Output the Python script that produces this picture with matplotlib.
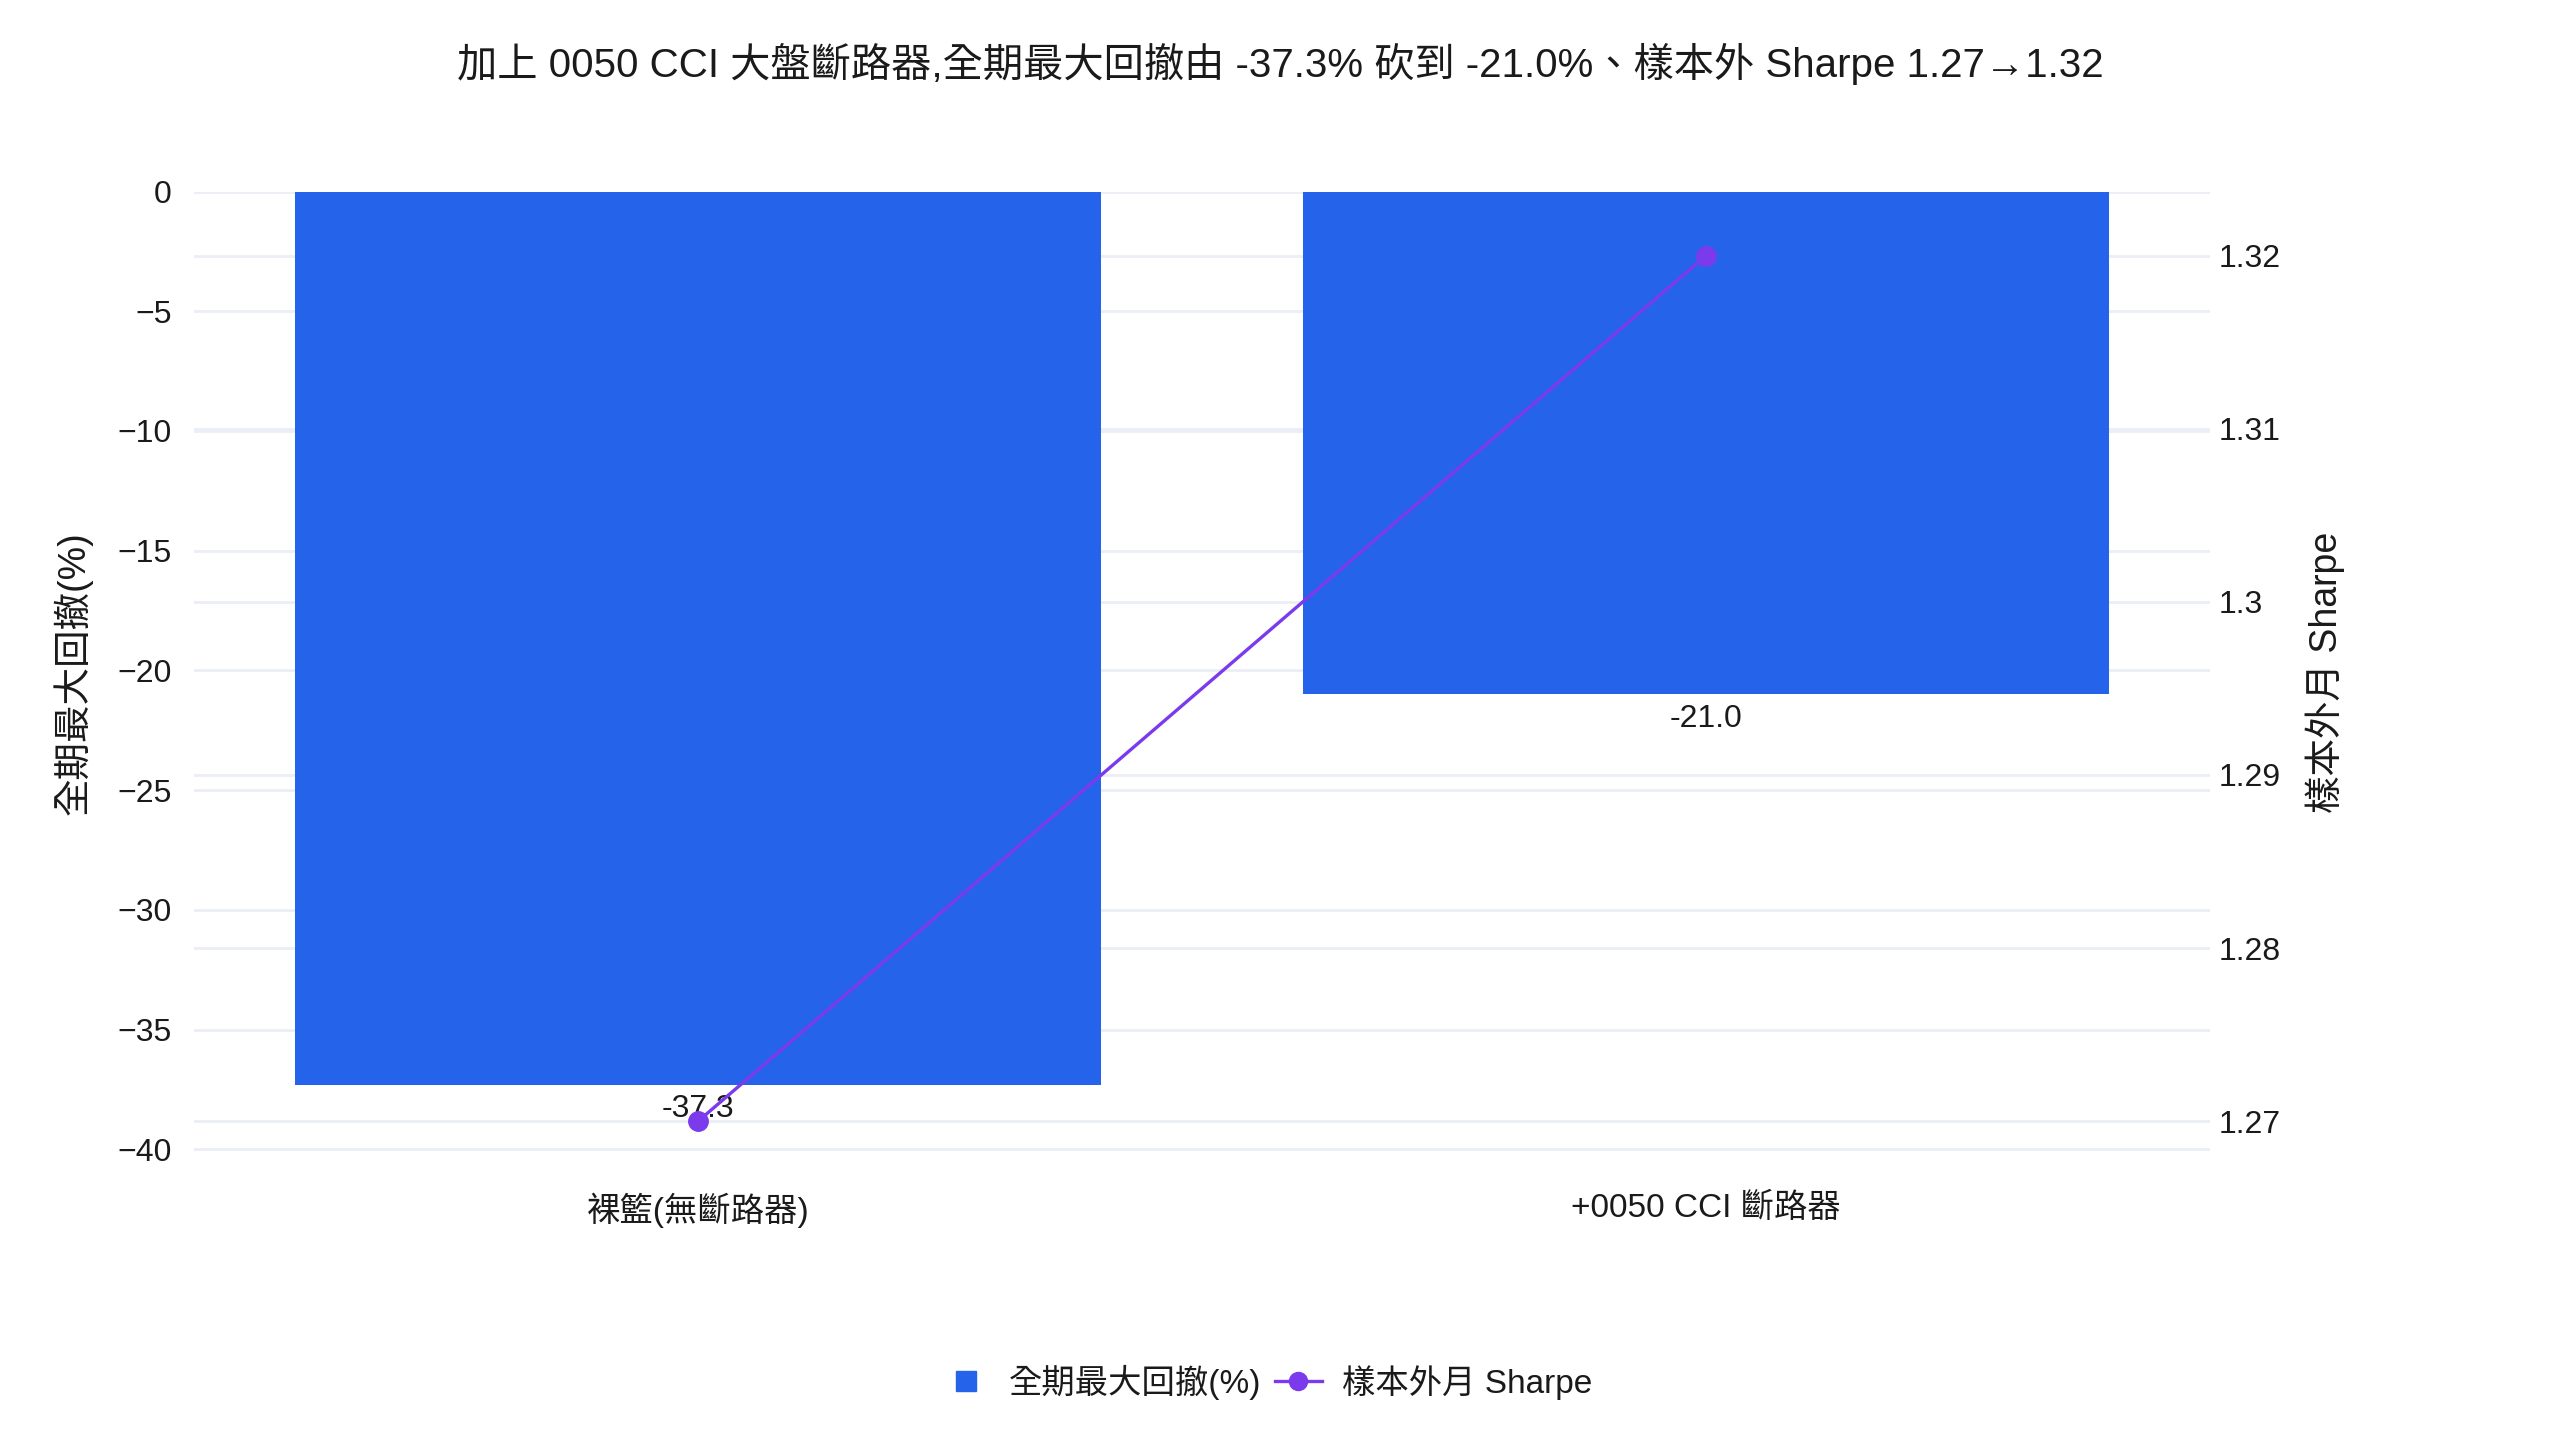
import matplotlib
matplotlib.use('Agg')
import matplotlib.pyplot as plt
from matplotlib.lines import Line2D
from matplotlib.ticker import FuncFormatter

plt.rcParams['font.family'] = ['Liberation Sans', 'Noto Sans CJK TC', 'DejaVu Sans']
plt.rcParams['axes.unicode_minus'] = True

# data
categories = ['裸籃(無斷路器)', '+0050 CCI 斷路器']
max_dd = [-37.3, -21.0]
oos_sharpe = [1.27, 1.32]
left_ticks = [0, -5, -10, -15, -20, -25, -30, -35, -40]
right_ticks = [1.27, 1.28, 1.29, 1.30, 1.31, 1.32]

title = '加上 0050 CCI 大盤斷路器,全期最大回撤由 -37.3% 砍到 -21.0%、樣本外 Sharpe 1.27→1.32'
bar_name = '全期最大回撤(%)'
line_name = '樣本外月 Sharpe'

bar_c = '#2563EB'
line_c = '#7C3AED'
grid_c = '#EBEEF6'
txt_c = '#1a1a1a'

fig = plt.figure(figsize=(25.6, 14.4), dpi=100)
ax = fig.add_axes([0.0758, 0.1985, 0.7875, 0.6685])
ax2 = ax.twinx()

ax.set_xlim(-0.5, 1.5)
ax.set_ylim(-40.2, 0)
ax2.set_ylim(1.2681, 1.3237)

x = list(range(len(categories)))
ax.bar(x, max_dd, width=0.8, color=bar_c, zorder=2)
for xi, v in zip(x, max_dd):
    ax.annotate(f'{v:.1f}', (xi, v), xytext=(0, -7), textcoords='offset points',
                ha='center', va='top', fontsize=23, color=txt_c, zorder=3)

ax.set_yticks(left_ticks)
ax.set_xticks(x)
ax.set_xticklabels(categories, fontsize=24, color=txt_c)
ax.tick_params(axis='x', length=0, pad=28)
ax.tick_params(axis='y', length=0, pad=16, labelsize=23, labelcolor=txt_c)
ax.yaxis.grid(True, color=grid_c, lw=2, zorder=0)
ax.set_axisbelow(True)
ax.set_ylabel(bar_name, fontsize=27, color=txt_c, labelpad=18)

# right-axis grid drawn behind the bars
fig.canvas.draw()
for v in right_ticks:
    yy = ax.transData.inverted().transform(ax2.transData.transform((0, v)))[1]
    ax.axhline(yy, color=grid_c, lw=2, zorder=0)

ax2.plot(x, oos_sharpe, color=line_c, lw=2.4, marker='o', markersize=14, zorder=5)
ax2.set_yticks(right_ticks)
ax2.yaxis.set_major_formatter(FuncFormatter(lambda v, p: f'{v:g}'))
ax2.tick_params(axis='y', length=0, pad=6, labelsize=23, labelcolor=txt_c)
ax2.set_ylabel(line_name, fontsize=27, color=txt_c, labelpad=18)
ax.set_zorder(ax2.get_zorder() - 1)
ax2.patch.set_visible(False)
ax.patch.set_visible(False)

for a in (ax, ax2):
    for s in a.spines.values():
        s.set_visible(False)

fig.suptitle(title, x=0.5, y=0.97, fontsize=29, color=txt_c)

handles = [
    Line2D([], [], color=bar_c, marker='s', linestyle='none', markersize=15),
    Line2D([], [], color=line_c, marker='o', lw=2.4, markersize=13),
]
fig.legend(handles, [bar_name, line_name], loc='center', bbox_to_anchor=(0.495, 0.04),
           ncol=2, frameon=False, fontsize=24, handlelength=1.4, columnspacing=0.4,
           handletextpad=0.6, labelcolor=txt_c)

fig.savefig('out.png', dpi=100)
